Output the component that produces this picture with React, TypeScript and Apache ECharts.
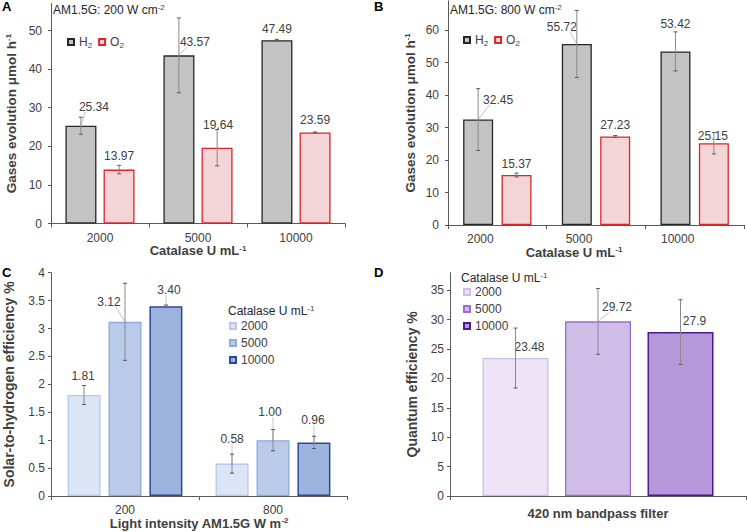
import React, { useEffect, useRef } from 'react';
import * as echarts from 'echarts';

const FONT = '"Liberation Sans", Arial, Helvetica, sans-serif';
const TXT = '#404040';
const AXIS = '#595959';

// ---------- data ----------
// Panel A (AM1.5G 200)
const catalaseCats = ['2000', '5000', '10000'];
const h2A = [25.34, 43.57, 47.49];
const h2AErr = [2.2, 9.7, 0.2];
const o2A = [13.97, 19.64, 23.59];
const o2AErr = [1.1, 4.7, 0.12];
// Panel B (AM1.5G 800)
const h2B = [32.45, 55.72, 53.42];
const h2BErr = [9.5, 10.3, 6.0];
const o2B = [15.37, 27.23, 25.15];
const o2BErr = [0.6, 0.3, 3.3];
// Panel C (solar-to-hydrogen efficiency)
const intensityCats = ['200', '800'];
const sth2000 = [1.81, 0.58];
const sth2000Err = [0.17, 0.17];
const sth5000 = [3.12, 1.0];
const sth5000Err = [0.69, 0.19];
const sth10000 = [3.4, 0.96];
const sth10000Err = [0.02, 0.11];
// Panel D (quantum efficiency)
const filterCats = ['420 nm bandpass filter'];
const qe2000 = [23.48];
const qe2000Err = [5.1];
const qe5000 = [29.72];
const qe5000Err = [5.6];
const qe10000 = [27.9];
const qe10000Err = [5.5];
const catalaseLevels = ['2000', '5000', '10000'];

// tick labels
const yTicksA = [0, 10, 20, 30, 40, 50];
const yTicksB = [0, 10, 20, 30, 40, 50, 60];
const yTicksC = [0, 0.5, 1, 1.5, 2, 2.5, 3, 3.5, 4];
const yTicksD = [0, 5, 10, 15, 20, 25, 30, 35];

// ---------- label nudges (layout only) [dx, dy, leaderLine] ----------
const nudgeAH2: [number, number, boolean][] = [[13, -8, true], [16, -2, true], [0, 0, false]];
const nudgeAO2: [number, number, boolean][] = [[0, -3, false], [1, -12, false], [0, -1, false]];
const nudgeBH2: [number, number, boolean][] = [[20, -9, true], [-15, -6, true], [0, -16, false]];
const nudgeBO2: [number, number, boolean][] = [[0, 0, false], [0, -1, false], [-1, 4, false]];
const nudgeC2000: [number, number, boolean][] = [[-1, -8, false], [0, -14, true]];
const nudgeC5000: [number, number, boolean][] = [[-16, -9, true], [-3, -17, true]];
const nudgeC10000: [number, number, boolean][] = [[3, -5, true], [-1, -11, true]];
const nudgeD2000: [number, number, boolean][] = [[14, 0, false]];
const nudgeD5000: [number, number, boolean][] = [[19, -3, true]];
const nudgeD10000: [number, number, boolean][] = [[14, 0, false]];

const fmt2 = (v: number) => v.toFixed(2);
const fmtRaw = (v: number) => String(v);

const supRich = (size: number, bold: boolean) => ({
  sup: { fontSize: size, fontWeight: bold ? 'bold' : 'normal', fontFamily: FONT, color: TXT, verticalAlign: 'top', lineHeight: 9 },
  sub: { fontSize: size, fontWeight: bold ? 'bold' : 'normal', fontFamily: FONT, color: TXT, verticalAlign: 'bottom', lineHeight: 9 },
});

function barSeries(
  name: string, values: number[], fmt: (v: number) => string, axis: number,
  fill: string, border: string, bw: number, gap: string, nudges: [number, number, boolean][], bwidth = 1.3
) {
  return {
    type: 'bar', name, xAxisIndex: axis, yAxisIndex: axis, barWidth: bw, barGap: gap,
    itemStyle: { color: fill, borderColor: border, borderWidth: bwidth },
    label: {
      show: true, position: 'top', distance: 5, fontSize: 12, fontFamily: FONT, color: TXT,
      formatter: (p: any) => fmt(p.value),
    },
    data: values.map((v, i) => ({ value: v, label: { offset: [nudges[i][0], nudges[i][1]] } })),
    z: 2,
  };
}

type Row = { cat: number; v: number; e: number; g: number; text: string; nudge: [number, number, boolean] };

function buildRows(groups: { vals: number[]; errs: number[]; nudges: [number, number, boolean][]; fmt: (v: number) => string }[]): Row[] {
  const rows: Row[] = [];
  groups.forEach((gr, g) => {
    gr.vals.forEach((v, cat) => {
      rows.push({ cat, v, e: gr.errs[cat], g, text: gr.fmt(v), nudge: gr.nudges[cat] });
    });
  });
  return rows;
}

function errorSeries(axis: number, rows: Row[], n: number, step: number) {
  return {
    type: 'custom', xAxisIndex: axis, yAxisIndex: axis, z: 5, silent: true,
    data: rows.map((r) => [r.cat, r.v]),
    encode: { x: 0, y: 1 },
    renderItem: (params: any, api: any) => {
      const r = rows[params.dataIndex];
      const base = api.coord([r.cat, r.v]);
      const x = base[0] + (r.g - (n - 1) / 2) * step;
      const yb = base[1];
      const yt = api.coord([r.cat, r.v + r.e])[1];
      const yl = api.coord([r.cat, r.v - r.e])[1];
      const children: any[] = [];
      if (r.nudge[2]) {
        const cx = x + r.nudge[0];
        const cy = yb - 12 + r.nudge[1];
        const hw = r.text.length * 3.3;
        const px = Math.min(Math.max(x, cx - hw / 2), cx + hw / 2);
        children.push({ type: 'line', shape: { x1: x, y1: yb, x2: px, y2: cy + 6 }, style: { stroke: '#c4c4c4', lineWidth: 1 } });
      }
      children.push({ type: 'line', shape: { x1: x, y1: yt, x2: x, y2: yl }, style: { stroke: '#8a8a8a', lineWidth: 1 } });
      children.push({ type: 'line', shape: { x1: x - 2, y1: yt, x2: x + 2, y2: yt }, style: { stroke: '#595959', lineWidth: 1 } });
      children.push({ type: 'line', shape: { x1: x - 2, y1: yl, x2: x + 2, y2: yl }, style: { stroke: '#595959', lineWidth: 1 } });
      return { type: 'group', children };
    },
  };
}

function yAxis(grid: number, max: number, interval: number, ticks: number[], name: string, nameGap: number, margin: number, nameSize = 13) {
  return {
    type: 'value', gridIndex: grid, min: 0, max, interval,
    name, nameLocation: 'middle', nameGap,
    nameTextStyle: { fontSize: nameSize, fontWeight: 'bold', color: TXT, fontFamily: FONT, rich: supRich(8, true) },
    axisLine: { show: true, lineStyle: { color: AXIS, width: 1 } },
    axisTick: { show: true, length: 3, lineStyle: { color: AXIS }, customValues: ticks },
    axisLabel: { fontSize: 12, color: TXT, fontFamily: FONT, margin, customValues: ticks },
    splitLine: { show: false },
  };
}

function xAxis(grid: number, cats: string[], name: string, nameGap: number, extra: any = {}) {
  return {
    type: 'category', gridIndex: grid, data: cats,
    name, nameLocation: 'middle', nameGap,
    nameTextStyle: { fontSize: 13, fontWeight: 'bold', color: TXT, fontFamily: FONT, rich: supRich(8, true), ...(extra.nameTextStyle || {}) },
    axisLine: { show: true, lineStyle: { color: AXIS, width: 1 } },
    axisTick: { show: true, length: 4, lineStyle: { color: AXIS } },
    axisLabel: { fontSize: 12, color: TXT, fontFamily: FONT, margin: 8, ...(extra.axisLabel || {}) },
    splitLine: { show: false },
  };
}

const H2_FILL = '#c3c3c3', H2_BORDER = '#262626';
const O2_FILL = '#f3d5d7', O2_BORDER = '#d9262c';
const C_FILL = ['#dbe5f5', '#b9cbe9', '#9cb3de'];
const C_BORDER = ['#b6c9ec', '#8eaadf', '#2c4a96'];
const D_FILL = ['#ede4f5', '#d0bde8', '#b698da'];
const D_BORDER = ['#d0baeb', '#9a6dd4', '#4a1d8a'];

export default function App() {
  const ref = useRef<HTMLDivElement>(null);
  useEffect(() => {
    if (!ref.current) return;
    const chart = echarts.init(ref.current, undefined, { renderer: 'svg' });

    const rowsA = buildRows([
      { vals: h2A, errs: h2AErr, nudges: nudgeAH2, fmt: fmt2 },
      { vals: o2A, errs: o2AErr, nudges: nudgeAO2, fmt: fmt2 },
    ]);
    const rowsB = buildRows([
      { vals: h2B, errs: h2BErr, nudges: nudgeBH2, fmt: fmt2 },
      { vals: o2B, errs: o2BErr, nudges: nudgeBO2, fmt: fmt2 },
    ]);
    const rowsC = buildRows([
      { vals: sth2000, errs: sth2000Err, nudges: nudgeC2000, fmt: fmt2 },
      { vals: sth5000, errs: sth5000Err, nudges: nudgeC5000, fmt: fmt2 },
      { vals: sth10000, errs: sth10000Err, nudges: nudgeC10000, fmt: fmt2 },
    ]);
    const rowsD = buildRows([
      { vals: qe2000, errs: qe2000Err, nudges: nudgeD2000, fmt: fmtRaw },
      { vals: qe5000, errs: qe5000Err, nudges: nudgeD5000, fmt: fmtRaw },
      { vals: qe10000, errs: qe10000Err, nudges: nudgeD10000, fmt: fmtRaw },
    ]);

    const letterStyle = { fontSize: 13, fontWeight: 'bold', color: '#000', fontFamily: FONT };
    const smallTitle = { fontSize: 12, fontWeight: 'normal', color: '#262626', fontFamily: FONT, lineHeight: 14, rich: supRich(8, false) };
    const legendText = { fontSize: 12, color: TXT, fontFamily: FONT, lineHeight: 14, rich: supRich(8, false) };

    const option: any = {
      animation: false,
      backgroundColor: '#fff',
      textStyle: { fontFamily: FONT },
      title: [
        { text: 'A', left: 2, top: 0, padding: 0, textStyle: letterStyle },
        { text: 'B', left: 374, top: 0, padding: 0, textStyle: letterStyle },
        { text: 'C', left: 2, top: 266, padding: 0, textStyle: letterStyle },
        { text: 'D', left: 374, top: 266, padding: 0, textStyle: letterStyle },
        { text: 'AM1.5G: 200 W cm{sup|-2}', left: 53, top: 3, padding: 0, textStyle: smallTitle },
        { text: 'AM1.5G: 800 W cm{sup|-2}', left: 450, top: 3, padding: 0, textStyle: smallTitle },
        { text: 'Catalase U mL{sup|-1}', left: 228, top: 304, padding: 0, textStyle: smallTitle },
        { text: 'Catalase U mL{sup|-1}', left: 461, top: 271, padding: 0, textStyle: smallTitle },
      ],
      legend: [
        {
          left: 67, top: 35, padding: 0, itemWidth: 6, itemHeight: 6, itemGap: 6, icon: 'rect',
          data: ['A·H', 'A·O'],
          formatter: (n: string) => (n.endsWith('H') ? 'H{sub|2}' : 'O{sub|2}'),
          textStyle: legendText,
        },
        {
          left: 463, top: 33, padding: 0, itemWidth: 6, itemHeight: 6, itemGap: 6, icon: 'rect',
          data: ['B·H', 'B·O'],
          formatter: (n: string) => (n.endsWith('H') ? 'H{sub|2}' : 'O{sub|2}'),
          textStyle: legendText,
        },
        {
          left: 229, top: 319, padding: 0, orient: 'vertical', itemWidth: 6, itemHeight: 6, itemGap: 3, icon: 'rect',
          data: catalaseLevels.map((c) => 'C·' + c),
          formatter: (n: string) => n.split('·')[1],
          textStyle: legendText,
        },
        {
          left: 463, top: 285, padding: 0, orient: 'vertical', itemWidth: 6, itemHeight: 6, itemGap: 3, icon: 'rect',
          data: catalaseLevels.map((c) => 'D·' + c),
          formatter: (n: string) => n.split('·')[1],
          textStyle: legendText,
        },
      ],
      grid: [
        { left: 51, top: 3.5, width: 294, height: 220 },
        { left: 448, top: 0.75, width: 296, height: 224.25 },
        { left: 51, top: 272.7, width: 296, height: 223.3 },
        { left: 450, top: 272.7, width: 296, height: 223.3 },
      ],
      xAxis: [
        xAxis(0, catalaseCats, 'Catalase U mL{sup|-1}', 18),
        xAxis(1, catalaseCats, 'Catalase U mL{sup|-1}', 20, {
          axisLabel: { padding: [0, 34, 0, 0] },
          nameTextStyle: { padding: [0, 44, 0, 0] },
        }),
        xAxis(2, intensityCats, 'Light intensity AM1.5G W m{sup|-2}', 19),
        xAxis(3, filterCats, '', 0, { axisLabel: { fontSize: 13, fontWeight: 'bold', margin: 11 } }),
      ],
      yAxis: [
        yAxis(0, 57, 10, yTicksA, 'Gases evolution μmol h{sup|-1}', 33, 9, 13.5),
        yAxis(1, 69, 10, yTicksB, 'Gases evolution μmol h{sup|-1}', 31, 9, 13.5),
        yAxis(2, 4, 0.5, yTicksC, 'Solar-to-hydrogen efficiency %', 35, 6, 14),
        yAxis(3, 38, 5, yTicksD, 'Quantum efficiency %', 31, 6, 14),
      ],
      series: [
        barSeries('A·H', h2A, fmt2, 0, H2_FILL, H2_BORDER, 31, '23%', nudgeAH2),
        barSeries('A·O', o2A, fmt2, 0, O2_FILL, O2_BORDER, 31, '23%', nudgeAO2),
        errorSeries(0, rowsA, 2, 38.3),
        barSeries('B·H', h2B, fmt2, 1, H2_FILL, H2_BORDER, 30, '28%', nudgeBH2),
        barSeries('B·O', o2B, fmt2, 1, O2_FILL, O2_BORDER, 30, '28%', nudgeBO2),
        errorSeries(1, rowsB, 2, 38.4),
        barSeries('C·2000', sth2000, fmt2, 2, C_FILL[0], C_BORDER[0], 33, '24%', nudgeC2000),
        barSeries('C·5000', sth5000, fmt2, 2, C_FILL[1], C_BORDER[1], 33, '24%', nudgeC5000),
        barSeries('C·10000', sth10000, fmt2, 2, C_FILL[2], C_BORDER[2], 33, '24%', nudgeC10000, 1.5),
        errorSeries(2, rowsC, 3, 41),
        barSeries('D·2000', qe2000, fmtRaw, 3, D_FILL[0], D_BORDER[0], 66, '25%', nudgeD2000),
        barSeries('D·5000', qe5000, fmtRaw, 3, D_FILL[1], D_BORDER[1], 66, '25%', nudgeD5000),
        barSeries('D·10000', qe10000, fmtRaw, 3, D_FILL[2], D_BORDER[2], 66, '25%', nudgeD10000, 1.5),
        errorSeries(3, rowsD, 3, 82.5),
      ],
    };
    chart.setOption(option);
    return () => chart.dispose();
  }, []);
  return <div ref={ref} style={{ position: 'fixed', left: 0, top: 0, width: 747, height: 532 }} />;
}
